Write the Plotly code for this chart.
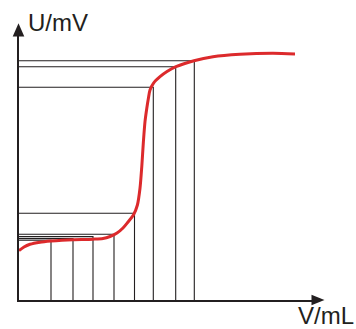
import plotly.graph_objects as go

# Titration curve (V in mL, U in mV, arbitrary scale)
curve_v = [0.0, 0.25, 0.55, 1.05, 1.6, 2.15, 2.7, 3.7, 4.2, 4.55, 4.9, 5.2, 5.45,
           5.72, 5.92, 6.05, 6.14, 6.22, 6.3, 6.39, 6.47, 6.55, 6.72, 7.05, 7.4,
           7.85, 8.75, 9.7, 11.05, 12.7, 13.8]
curve_u = [24.65, 26.5, 27.85, 28.9, 29.5, 29.9, 30.15, 30.4, 30.75, 31.75, 33.5, 36.0, 39.0,
           42.5, 47.5, 55.85, 66.85, 79.15, 89.15, 95.85, 100.85, 105.0, 108.35, 111.65, 114.25,
           116.65, 119.65, 121.65, 122.85, 123.35, 123.0]

# Read-off points (drop lines to both axes)
read_v = [1.6, 2.7, 3.7, 4.75, 5.775, 6.715, 7.835, 8.765]
read_u = [29.9, 30.7, 31.7, 32.85, 43.35, 106.35, 116.65, 119.6]

x_label = "V/mL"
y_label = "U/mV"

W, H = 356, 329
ML, MR, MT, MB = 19, 44, 36, 29
PW, PH = W - ML - MR, H - MT - MB
XR = [0, PW / 20.0]
YR = [0, PH / 2.0]

INK = "#231f20"
RED = "#dc2a2c"


def px_to_paper_x(px):
    return (px - ML) / PW


def py_to_paper_y(py):
    return (MT + PH - py) / PH


fig = go.Figure()

# drop lines: from y-axis horizontally to the point, then down to the x-axis
lx, ly = [], []
for v, u in zip(read_v, read_u):
    lx += [0, v, v, None]
    ly += [u, u, 0, None]
fig.add_trace(go.Scatter(x=lx, y=ly, mode="lines",
                         line=dict(color=INK, width=1.1), hoverinfo="skip",
                         showlegend=False))

fig.add_trace(go.Scatter(x=curve_v, y=curve_u, mode="lines",
                         line=dict(color=RED, width=3, shape="spline", smoothing=0.8),
                         showlegend=False))


def tri(points):
    parts = ["M{:.5f},{:.5f}".format(px_to_paper_x(points[0][0]), py_to_paper_y(points[0][1]))]
    for p in points[1:]:
        parts.append("L{:.5f},{:.5f}".format(px_to_paper_x(p[0]), py_to_paper_y(p[1])))
    return " ".join(parts) + " Z"


# axis arrowheads
fig.add_shape(type="path", xref="paper", yref="paper",
              path=tri([(18.5, 23.3), (12.7, 36.5), (24.3, 36.5)]),
              fillcolor=INK, line=dict(width=0), layer="above")
fig.add_shape(type="path", xref="paper", yref="paper",
              path=tri([(324.5, 300), (311.5, 294.8), (311.5, 305.2)]),
              fillcolor=INK, line=dict(width=0), layer="above")

fig.add_annotation(text=y_label, x=px_to_paper_x(26), y=py_to_paper_y(22.6),
                   xref="paper", yref="paper", xanchor="left", yanchor="middle",
                   showarrow=False, font=dict(family="Liberation Sans", size=24, color=INK))
fig.add_annotation(text=x_label, x=px_to_paper_x(356), y=py_to_paper_y(315.0),
                   xref="paper", yref="paper", xanchor="right", yanchor="middle",
                   showarrow=False, font=dict(family="Liberation Sans", size=24, color=INK))

axis_common = dict(showgrid=False, zeroline=False, showticklabels=False, ticks="",
                   showline=True, linewidth=2, linecolor=INK, fixedrange=True)
fig.update_layout(
    width=W, height=H,
    margin=dict(l=ML, r=MR, t=MT, b=MB, pad=0),
    plot_bgcolor="white", paper_bgcolor="white",
    xaxis=dict(range=XR, **axis_common),
    yaxis=dict(range=YR, **axis_common),
    showlegend=False,
)

fig.write_html("out.html", config={"displayModeBar": False},
               post_script="document.body.style.margin='0';document.body.style.padding='0';")
